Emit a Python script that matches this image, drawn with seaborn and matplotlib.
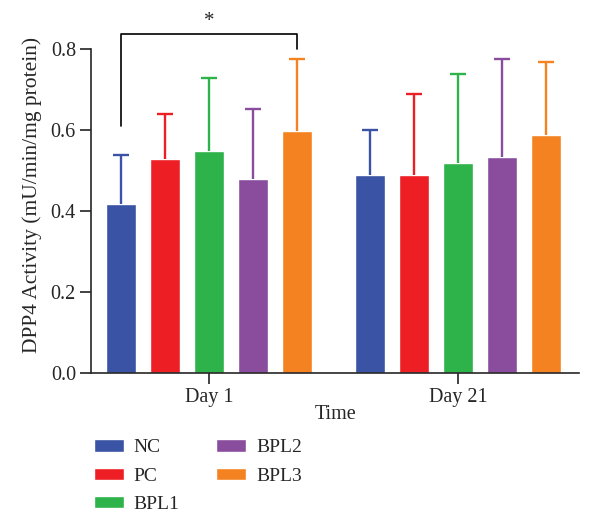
import pandas as pd
import matplotlib
matplotlib.use('Agg')
import matplotlib.pyplot as plt
import seaborn as sns

# data
days = ['Day 1', 'Day 21']
groups = ['NC', 'PC', 'BPL1', 'BPL2', 'BPL3']
mean_day1 = [0.418, 0.528, 0.548, 0.479, 0.598]
mean_day21 = [0.490, 0.490, 0.518, 0.533, 0.588]
sd_day1 = [0.122, 0.112, 0.182, 0.173, 0.179]
sd_day21 = [0.110, 0.199, 0.220, 0.242, 0.180]
colors = ['#3A53A4', '#ED1F24', '#2EB34A', '#8A4C9C', '#F58220']

df = pd.DataFrame({
    'Time': [days[0]] * 5 + [days[1]] * 5,
    'Group': groups * 2,
    'Value': mean_day1 + mean_day21,
    'SD': sd_day1 + sd_day21,
})

sns.set_style('ticks')
plt.rcParams['font.family'] = ['Liberation Serif', 'DejaVu Serif']

fig = plt.figure(figsize=(6, 5.3), dpi=100)
ax = fig.add_axes([0.152, 0.296, 0.813, 0.672])

sns.barplot(data=df, x='Time', y='Value', hue='Group', hue_order=groups,
            palette=colors, width=0.884, gap=0.32, errorbar=None,
            saturation=1, ax=ax, legend=True)

# one-sided error bars (patches come hue by hue, day by day)
sd_by_patch = []
for i in range(len(groups)):
    sd_by_patch += [sd_day1[i], sd_day21[i]]
for patch, sd in zip(ax.patches, sd_by_patch):
    cx = patch.get_x() + patch.get_width() / 2
    h = patch.get_height()
    c = patch.get_facecolor()
    ax.vlines(cx, h, h + sd, color=c, lw=1.7)
    ax.hlines(h + sd, cx - 0.031, cx + 0.031, color=c, lw=1.7)

# significance bracket NC vs BPL3 on day 1
p = ax.patches
x_nc = p[0].get_x() + p[0].get_width() / 2
x_b3 = p[8].get_x() + p[8].get_width() / 2
ax.plot([x_nc, x_nc, x_b3, x_b3], [0.61, 0.837, 0.837, 0.80],
        color='black', lw=1.2, clip_on=False)
ax.text((x_nc + x_b3) / 2, 0.845, '*', ha='center', va='bottom', fontsize=15)

ax.set_ylim(0, 0.88)
ax.set_xlim(-0.474, 1.486)
ax.set_yticks([0.0, 0.2, 0.4, 0.6, 0.8])
ax.set_yticklabels(['0.0', '0.2', '0.4', '0.6', '0.8'])
ax.spines['left'].set_bounds(0, 0.8)
sns.despine(ax=ax)
ax.spines['left'].set_linewidth(1.2)
ax.spines['bottom'].set_linewidth(1.2)
ax.tick_params(axis='both', labelsize=14.5, length=8, width=1.2, color='#222222', pad=3)
ax.set_xlabel('Time', fontsize=14.5, labelpad=-2)
ax.set_ylabel('DPP4 Activity (mU/min/mg protein)', fontsize=15.5, labelpad=6)

handles, labels = ax.get_legend_handles_labels()
ax.get_legend().remove()
fig.legend(handles, labels, ncol=2, loc='upper left', bbox_to_anchor=(0.143, 0.186),
           frameon=False, fontsize=14, handlelength=1.55, handleheight=0.6,
           handletextpad=0.5, labelspacing=0.58, columnspacing=1.9, borderaxespad=0)

fig.savefig('out.png', dpi=100)
